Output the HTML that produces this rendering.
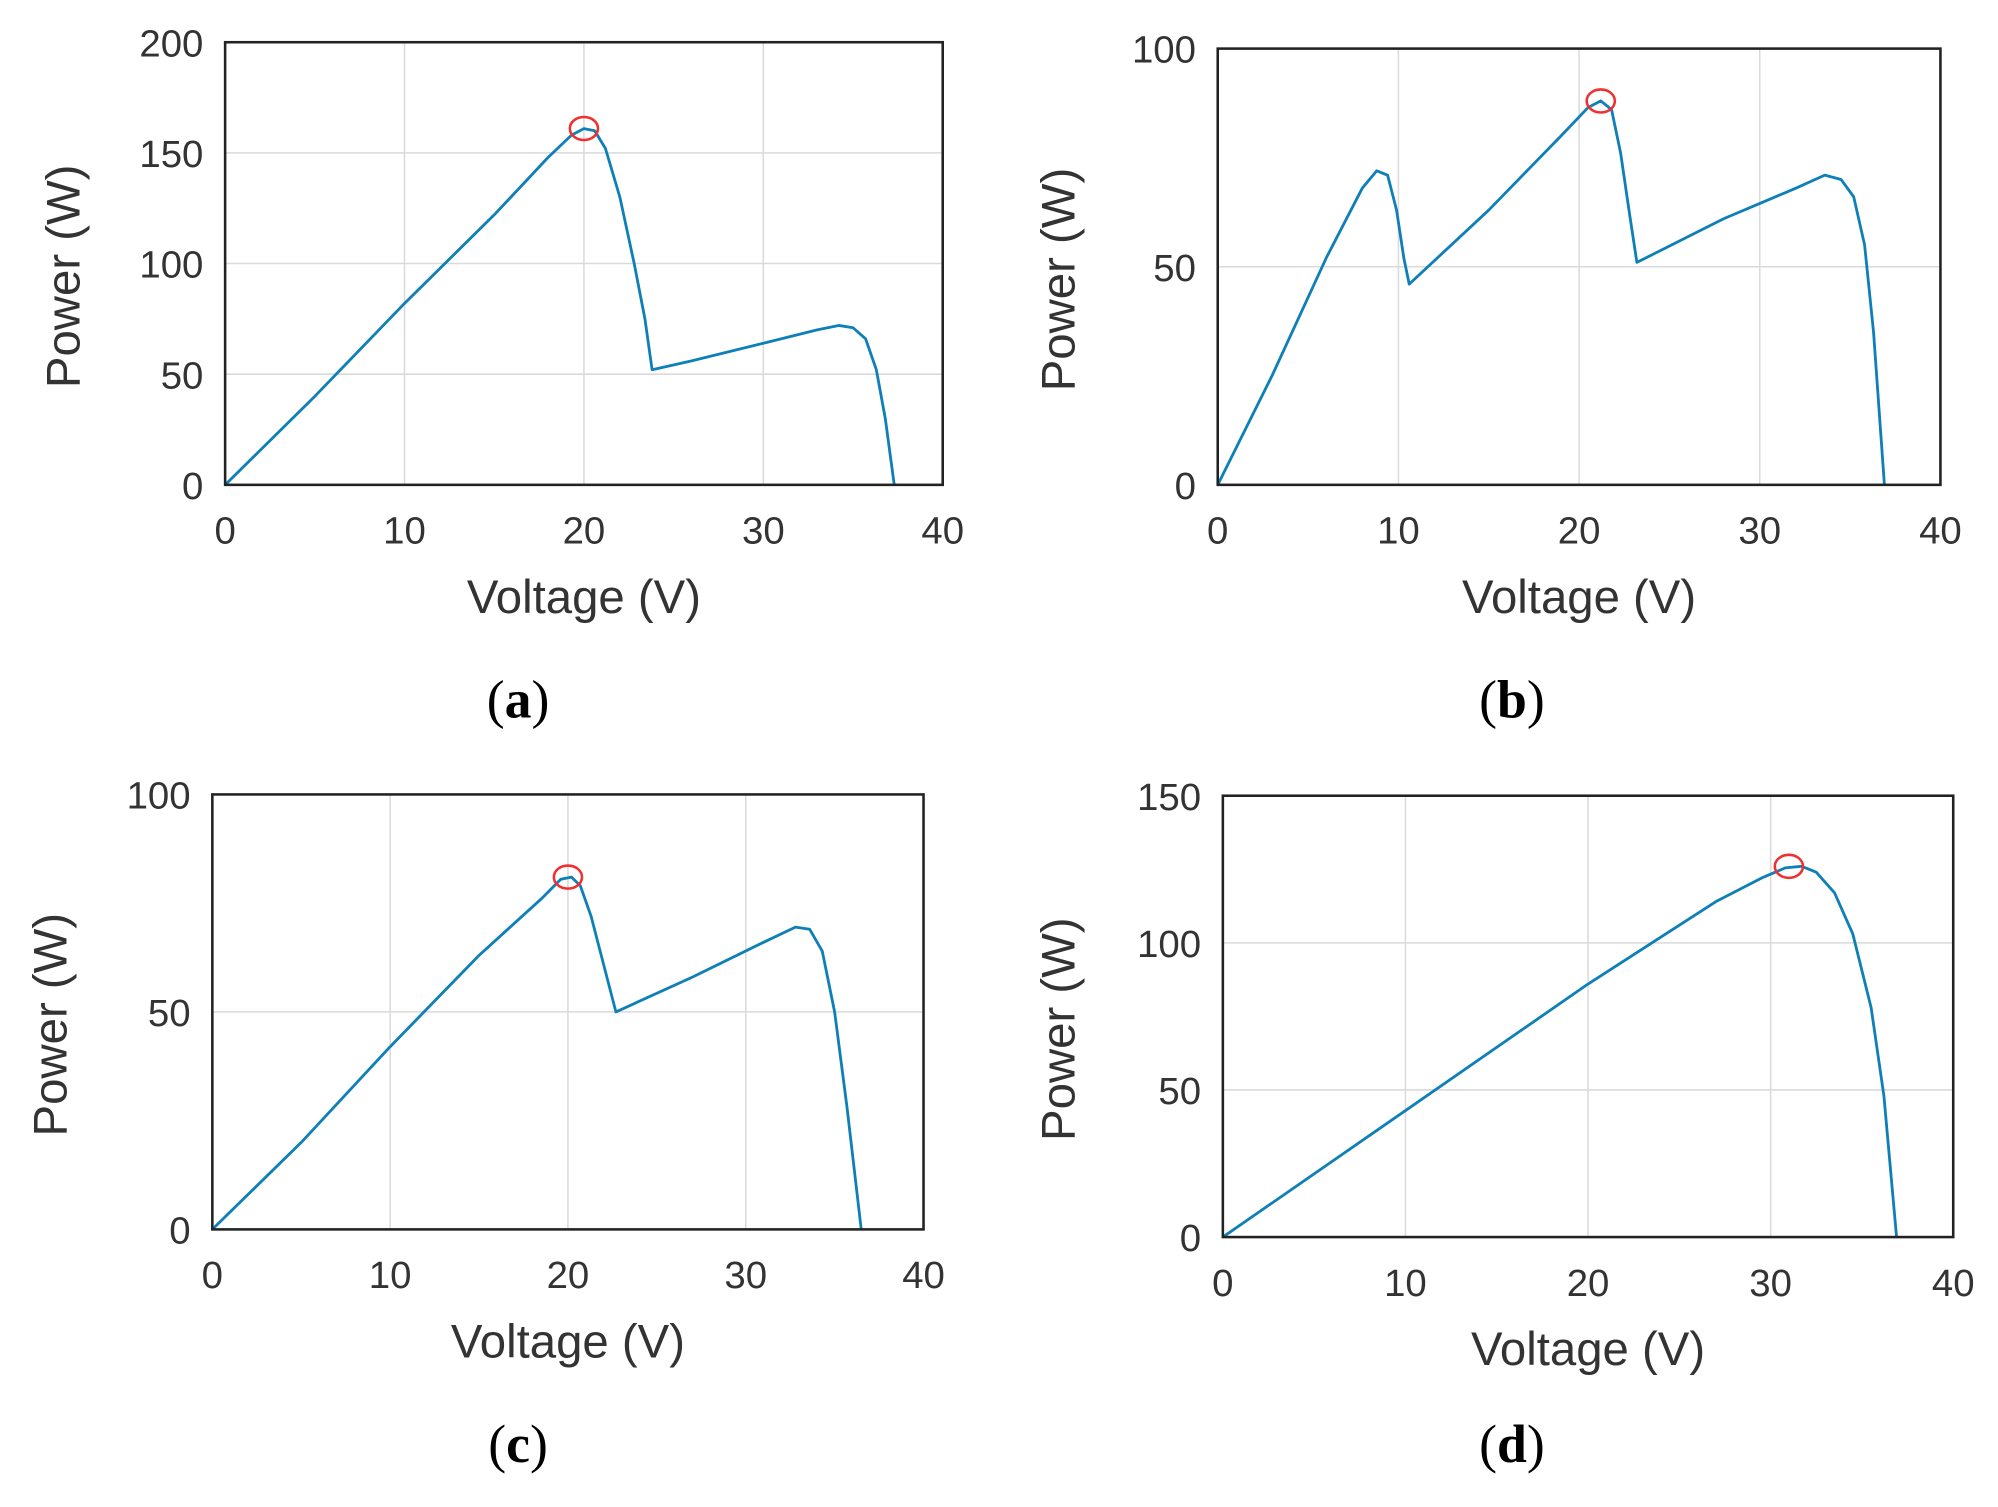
<!DOCTYPE html>
<html><head><meta charset="utf-8"><style>
html,body{margin:0;padding:0;background:#fff}
svg{display:block}
</style></head><body>
<svg id="fig" width="1998" height="1507" viewBox="0 0 1562 1178" preserveAspectRatio="none" xmlns="http://www.w3.org/2000/svg"></svg>
<script>
// Panel data (voltage V, power W)
const xTicks = [0, 10, 20, 30, 40];
const aV = [0,5,10,15,18,19.3,20,20.6,21.2,22,22.8,23.4,23.8,26,30,33,34.2,35,35.7,36.3,36.8,37.3];
const aP = [0,40,82,122,148,158,161,160,152,130,100,75,52,56,64,70,72,71,66,52,30,0];
const aMpp = [20, 161];
const aYTicks = [0, 50, 100, 150, 200];
const bV = [0,3,6,8,8.8,9.4,9.9,10.3,10.6,15,19,20.5,21.2,21.8,22.3,22.8,23.2,28,32,33.6,34.5,35.2,35.8,36.3,36.9];
const bP = [0,25,52,68,72,71,63,52,46,63,80,86.5,88,86,76,62,51,61,68,71,70,66,55,35,0];
const bMpp = [21.2, 88];
const bYTicks = [0, 50, 100];
const cV = [0,5,10,15,18.5,19.6,20.2,20.7,21.3,22,22.7,27,31,32.8,33.6,34.3,35,35.7,36.5];
const cP = [0,20,42,63,76,80.5,81,79,72,61,50,58,66,69.5,69,64,50,28,0];
const cMpp = [20, 81];
const cYTicks = [0, 50, 100];
const dV = [0,10,20,27,29.5,30.8,31.7,32.5,33.5,34.5,35.5,36.2,36.9];
const dP = [0,43,86,114,122,125.5,126,124,117,103,78,48,0];
const dMpp = [31, 126];
const dYTicks = [0, 50, 100, 150];

const NS = 'http://www.w3.org/2000/svg';
const svg = document.getElementById('fig');
function el(tag, attrs, parent){
  const e = document.createElementNS(NS, tag);
  for (const k in attrs) e.setAttribute(k, attrs[k]);
  (parent||svg).appendChild(e);
  return e;
}
function panel(id, box, V, P, mpp, yTicks, cap){
  const g = el('g', {});
  
  
  const ymax = yTicks[yTicks.length-1];
  const sx = v => box.l + (v/40)*(box.r-box.l);
  const sy = p => box.b - (p/ymax)*(box.b-box.t);
  xTicks.forEach(t => {
    const ln = el('line', {x1:sx(t),x2:sx(t),y1:box.t,y2:box.b,stroke:'#dadada','stroke-width':1.2}, g);
    
    
    const tx = el('text', {x:sx(t),y:box.b+46,'text-anchor':'middle','font-size':30,fill:'#333','font-family':'Liberation Sans, sans-serif'}, g);
    tx.textContent = t;
    
    
  });
  yTicks.forEach(t => {
    const ln = el('line', {x1:box.l,x2:box.r,y1:sy(t),y2:sy(t),stroke:'#dadada','stroke-width':1.2}, g);
    
    
    const tx = el('text', {x:box.l-17,y:sy(t)+11,'text-anchor':'end','font-size':30,fill:'#333','font-family':'Liberation Sans, sans-serif'}, g);
    tx.textContent = t;
    
    
  });
  const pts = V.map((v,i) => sx(v).toFixed(1)+','+sy(P[i]).toFixed(1)).join(' ');
  const line = el('polyline', {points:pts,fill:'none',stroke:'#0f7fb8','stroke-width':2.2,'stroke-linejoin':'round'}, g);
  
  
  const mk = el('ellipse', {cx:sx(mpp[0]),cy:sy(mpp[1]),rx:11,ry:9,fill:'none',stroke:'#f03030','stroke-width':2}, g);
  
  
  const fr = el('rect', {x:box.l,y:box.t,width:box.r-box.l,height:box.b-box.t,fill:'none',stroke:'#222','stroke-width':2}, g);
  
  
  const xl = el('text', {x:(box.l+box.r)/2,y:box.b+100,'text-anchor':'middle','font-size':37,fill:'#333','font-family':'Liberation Sans, sans-serif'}, g);
  xl.textContent = 'Voltage (V)';
  
  
  const ycx = box.yl, ycy = (box.t+box.b)/2+10;
  const yl = el('text', {x:ycx,y:ycy,'text-anchor':'middle','font-size':37,fill:'#333','font-family':'Liberation Sans, sans-serif',transform:'rotate(-90 '+ycx+' '+ycy+')'}, g);
  yl.textContent = 'Power (W)';
  
  
  const ct = el('text', {x:cap.x,y:cap.y,'text-anchor':'middle','font-size':42,fill:'#000','font-family':'Liberation Serif, serif'}, g);
  ct.innerHTML = '(<tspan font-weight="bold">'+id+'</tspan>)';
  
  
}
panel('a', {l:176,r:737,t:33,b:379,yl:62}, aV, aP, aMpp, aYTicks, {x:405,y:561});
panel('b', {l:952,r:1517,t:38,b:379,yl:840}, bV, bP, bMpp, bYTicks, {x:1182,y:561});
panel('c', {l:166,r:722,t:621,b:961,yl:52}, cV, cP, cMpp, cYTicks, {x:405,y:1143});
panel('d', {l:956,r:1527,t:622,b:967,yl:840}, dV, dP, dMpp, dYTicks, {x:1182,y:1143});
</script>
</body></html>
